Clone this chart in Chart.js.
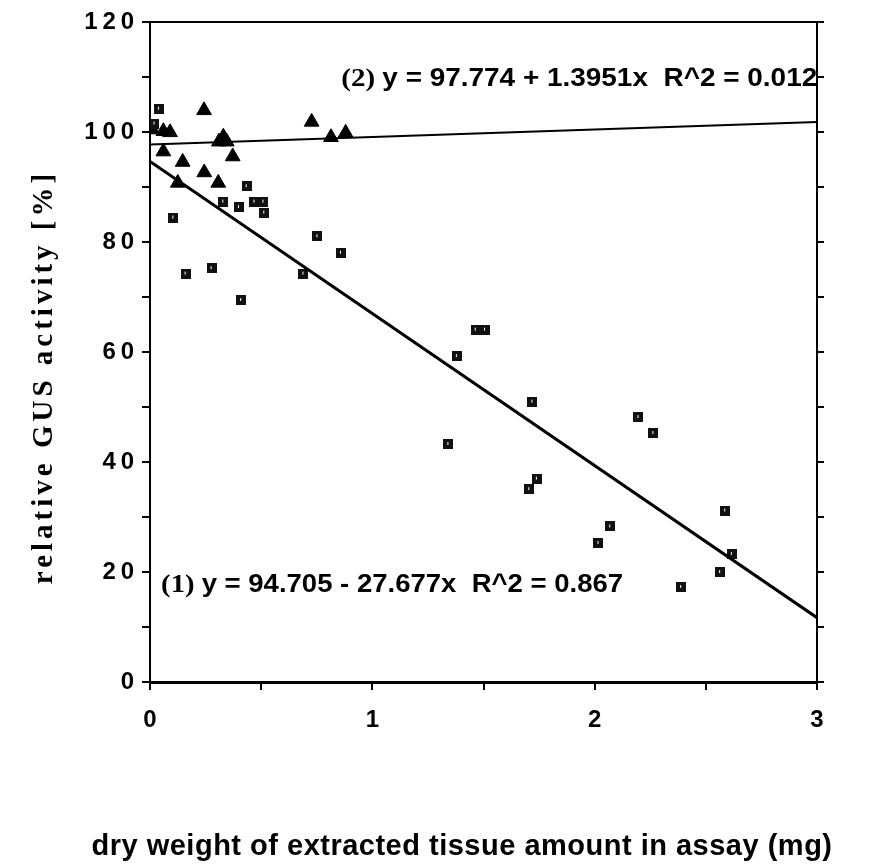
<!DOCTYPE html>
<html>
<head>
<meta charset="utf-8">
<script src="https://cdn.jsdelivr.net/npm/chart.js@4/dist/chart.umd.min.js"></script>
<style>
  body { margin: 0; background: #fff; }
  #wrap { width: 876px; height: 866px; }
</style>
</head>
<body>
<div id="wrap"><canvas id="gusChart" width="876" height="866"></canvas></div>
<script>
// open squares: series (1)
const sqX = [0.04, 0.02, 0.435, 0.33, 0.40, 0.47, 0.51, 0.514, 0.105, 0.753, 0.859, 0.69, 0.16, 0.277, 0.41,
             1.465, 1.507, 1.38, 1.72, 2.197, 2.264, 1.342, 1.74, 1.706, 2.587, 2.07, 2.017, 2.617, 2.564, 2.389];
const sqY = [104.3, 101.6, 90.2, 87.4, 86.4, 87.4, 87.4, 85.4, 84.5, 81.1, 78.1, 74.3, 74.3, 75.3, 69.5,
             64.1, 64.1, 59.3, 51.0, 48.2, 45.3, 43.3, 37.0, 35.1, 31.2, 28.3, 25.3, 23.3, 20.0, 17.3];
// filled triangles: series (2)
const triX = [0.243, 0.727, 0.88, 0.814, 0.01, 0.06, 0.09, 0.31, 0.33, 0.345, 0.372, 0.06, 0.147, 0.244, 0.307, 0.125];
const triY = [104.0, 101.9, 99.9, 99.1, 100.5, 100.2, 100.0, 98.3, 99.2, 98.3, 95.6, 96.5, 94.6, 92.7, 90.8, 90.8];
// regression line ends at x = 0 and x = 3
const fitX = [0, 3];
const fit1Y = [94.7, 11.7];
const fit2Y = [97.8, 101.9];
const eq1 = '(1) y = 94.705 - 27.677x  R^2 = 0.867';
const eq2 = '(2) y = 97.774 + 1.3951x  R^2 = 0.012';
const yTitle = 'relative GUS activity [%]';
const xTitle = 'dry weight of extracted tissue amount in assay (mg)';

const yTicks = [0, 20, 40, 60, 80, 100, 120];
const xTicks = [0, 1, 2, 3];

function pts(xs, ys) { return xs.map((x, i) => ({x: x, y: ys[i]})); }

// little square marker, black with a white speck like the scan
const sq = document.createElement('canvas');
sq.width = 10; sq.height = 10;
const sctx = sq.getContext('2d');
sctx.fillStyle = '#111';
sctx.fillRect(0, 0, 10, 10);
sctx.fillStyle = '#fff';
sctx.fillRect(4, 3, 1, 3);

// equation labels ("(n)" in serif, rest in sans) and the spaced-out axis titles
const extraText = {
  id: 'extraText',
  afterDatasetsDraw(chart) {
    const c = chart.ctx;
    const xs = chart.scales.x, ys = chart.scales.y;
    function put(text, xv, yv, width) {
      const head = text.slice(0, 4), rest = text.slice(4);
      c.save();
      c.fillStyle = '#000';
      c.textBaseline = 'middle';
      c.font = 'bold 26px "Liberation Serif", serif';
      const w1 = c.measureText(head).width;
      c.font = 'bold 25px "Liberation Sans", Arial, sans-serif';
      const w2 = c.measureText(rest).width;
      const k = width / (w1 + w2);
      const px = xs.getPixelForValue(xv), py = ys.getPixelForValue(yv);
      c.translate(px, py);
      c.scale(k, 1);
      c.font = 'bold 26px "Liberation Serif", serif';
      c.fillText(head, 0, 0);
      c.font = 'bold 25px "Liberation Sans", Arial, sans-serif';
      c.fillText(rest, w1, 0);
      c.restore();
    }
    put(eq2, 0.86, 109.6, 476);
    put(eq1, 0.05, 17.6, 462);

    c.save();
    c.fillStyle = '#000';
    c.font = 'bold 29px "Liberation Serif", "Times New Roman", serif';
    c.letterSpacing = '4px';
    c.textAlign = 'center';
    c.textBaseline = 'middle';
    c.translate(45, 377);
    c.rotate(-Math.PI / 2);
    c.fillText(yTitle, 0, 0);
    c.restore();

    c.save();
    c.fillStyle = '#000';
    c.font = 'bold 29px "Liberation Sans", Arial, sans-serif';
    c.letterSpacing = '0.5px';
    c.textAlign = 'center';
    c.textBaseline = 'middle';
    c.fillText(xTitle, 462, 847);
    c.restore();
  }
};

const ctx = document.getElementById('gusChart').getContext('2d');
new Chart(ctx, {
  type: 'scatter',
  data: {
    datasets: [
      {
        label: 'fit (1)',
        type: 'line',
        data: pts(fitX, fit1Y),
        borderColor: '#000',
        borderWidth: 3,
        pointRadius: 0,
        fill: false
      },
      {
        label: 'fit (2)',
        type: 'line',
        data: pts(fitX, fit2Y),
        borderColor: '#000',
        borderWidth: 2,
        pointRadius: 0,
        fill: false
      },
      {
        label: 'squares',
        data: pts(sqX, sqY),
        pointStyle: sq,
        pointRadius: 5
      },
      {
        label: 'triangles',
        data: pts(triX, triY),
        pointStyle: 'triangle',
        pointRadius: 8.5,
        backgroundColor: '#000',
        borderColor: '#000',
        borderWidth: 1
      }
    ]
  },
  options: {
    responsive: false,
    animation: false,
    layout: { padding: { top: 18, right: 0, left: 0, bottom: 0 } },
    plugins: { legend: { display: false }, tooltip: { enabled: false } },
    scales: {
      x: {
        type: 'linear',
        min: 0, max: 3,
        afterFit: s => { s.height = 184; },
        afterBuildTicks: s => { s.ticks = [0, 0.5, 1, 1.5, 2, 2.5, 3].map(v => ({value: v})); },
        border: { color: '#000', width: 3 },
        grid: { drawOnChartArea: false, color: '#000', lineWidth: 2, tickLength: 8 },
        ticks: {
          color: '#000',
          padding: 16,
          maxRotation: 0,
          font: { family: '"Liberation Sans", Arial, sans-serif', size: 24, weight: 'bold' },
          callback: v => xTicks.includes(v) ? String(v) : ''
        }
      },
      x2: {
        type: 'linear',
        position: 'top',
        min: 0, max: 3,
        afterFit: s => { s.height = 0; },
        border: { color: '#000', width: 2 },
        grid: { display: false },
        ticks: { display: false }
      },
      y: {
        min: 0, max: 120,
        afterFit: s => { s.width = 150; },
        afterBuildTicks: s => { s.ticks = [0,10,20,30,40,50,60,70,80,90,100,110,120].map(v => ({value: v})); },
        border: { color: '#000', width: 2 },
        grid: { drawOnChartArea: false, color: '#000', lineWidth: 2, tickLength: 8 },
        ticks: {
          color: '#000',
          padding: 8,
          font: { family: '"Liberation Sans", Arial, sans-serif', size: 24, weight: 'bold' },
          callback: v => yTicks.includes(v) ? String(v).split('').join('\u2009') : ''
        }
      },
      y2: {
        position: 'right',
        min: 0, max: 120,
        afterFit: s => { s.width = 59; },
        afterBuildTicks: s => { s.ticks = [0,10,20,30,40,50,60,70,80,90,100,110,120].map(v => ({value: v})); },
        border: { color: '#000', width: 2 },
        grid: { drawOnChartArea: false, color: '#000', lineWidth: 2, tickLength: 7 },
        ticks: { display: true, callback: () => '', padding: 0 }
      }
    }
  },
  plugins: [extraText]
});
</script>
</body>
</html>
